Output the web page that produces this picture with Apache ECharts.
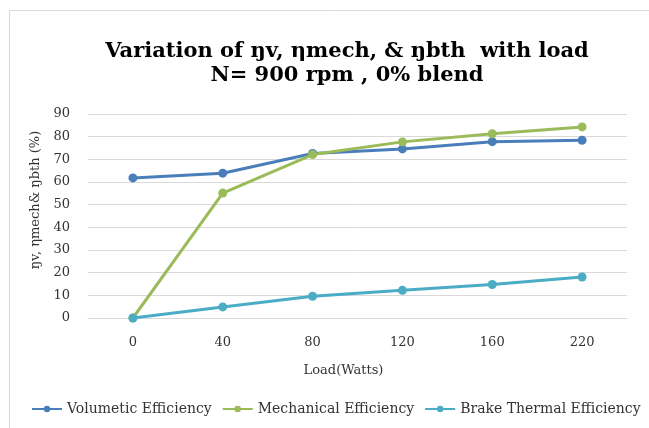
<!DOCTYPE html>
<html>
<head>
<meta charset="utf-8">
<script src="https://cdn.jsdelivr.net/npm/echarts@6/dist/echarts.min.js"></script>
<style>
  html, body { margin: 0; padding: 0; background: #fff; }
  #chart { width: 649px; height: 428px; }
</style>
</head>
<body>
<div id="chart"></div>
<script>
  // load categories (Watts)
  var loads = ['0', '40', '80', '120', '160', '220'];
  // efficiencies (%)
  var volumetric = [61.8, 63.9, 72.6, 74.6, 77.8, 78.4];
  var mechanical = [0, 55.1, 72.1, 77.7, 81.3, 84.3];
  var brakeThermal = [0, 4.9, 9.6, 12.2, 14.8, 18.1];
  var yTicks = [0, 90, 10]; // min, max, interval

  var colors = ['#4a7ebb', '#9bbb59', '#4bacc6'];
  var serif = '"DejaVu Serif", "Liberation Serif", serif';

  var myChart = echarts.init(document.getElementById('chart'));

  function lineSeries(name, data, color) {
    return {
      name: name,
      type: 'line',
      data: data,
      symbol: 'circle',
      symbolSize: 9,
      lineStyle: { width: 3, color: color },
      itemStyle: { color: color },
      emphasis: { disabled: true }
    };
  }

  var option = {
    backgroundColor: '#fff',
    animation: false,
    color: colors,
    textStyle: { fontFamily: serif },
    title: {
      text: 'Variation of ŋv, ηmech, & ŋbth  with load\nN= 900 rpm , 0% blend',
      left: 342,
      top: 35,
      textAlign: 'center',
      textStyle: {
        fontFamily: serif,
        fontSize: 21,
        fontWeight: 'bold',
        color: '#000',
        lineHeight: 24
      }
    },
    grid: {
      left: 88,
      right: 22,
      top: 114,
      bottom: 110
    },
    legend: {
      data: ['Volumetic Efficiency', 'Mechanical Efficiency', 'Brake Thermal Efficiency'],
      left: 26,
      right: 0,
      top: 397,
      itemWidth: 30,
      itemHeight: 8,
      itemGap: 10,
      textStyle: { fontFamily: serif, fontSize: 14, color: '#333' }
    },
    xAxis: {
      type: 'category',
      data: loads,
      name: 'Load(Watts)',
      nameLocation: 'middle',
      nameGap: 46,
      nameTextStyle: {
        fontFamily: serif, fontSize: 13, color: '#333',
        padding: [0, 28, 0, 0]
      },
      axisLine: { show: true, lineStyle: { color: '#d9d9d9', width: 1 } },
      axisTick: { show: false },
      axisLabel: { fontFamily: serif, fontSize: 13, color: '#333', margin: 18 }
    },
    yAxis: {
      type: 'value',
      min: yTicks[0],
      max: yTicks[1],
      interval: yTicks[2],
      name: 'ŋv, ηmech& ŋbth (%)',
      nameLocation: 'middle',
      nameGap: 46,
      nameTextStyle: {
        fontFamily: serif, fontSize: 13, color: '#333',
        padding: [0, 0, 0, 32]
      },
      axisLine: { show: false },
      axisTick: { show: false },
      axisLabel: { fontFamily: serif, fontSize: 13, color: '#333', margin: 18 },
      splitLine: { lineStyle: { color: '#d9d9d9', width: 1 } }
    },
    graphic: [{
      type: 'rect',
      shape: { x: 9.5, y: 10.5, width: 700, height: 500 },
      style: { fill: 'none', stroke: '#d9d9d9', lineWidth: 1 },
      silent: true
    }],
    series: [
      lineSeries('Volumetic Efficiency', volumetric, colors[0]),
      lineSeries('Mechanical Efficiency', mechanical, colors[1]),
      lineSeries('Brake Thermal Efficiency', brakeThermal, colors[2])
    ]
  };

  myChart.setOption(option);
</script>
</body>
</html>
